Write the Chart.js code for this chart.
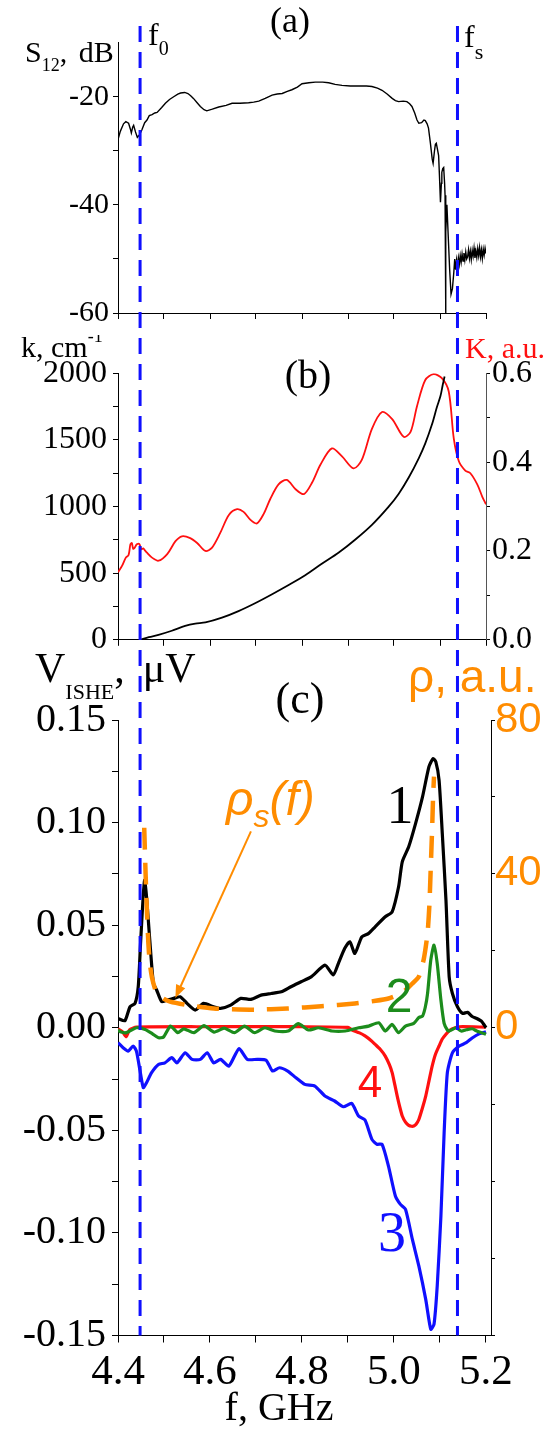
<!DOCTYPE html>
<html>
<head>
<meta charset="utf-8">
<script src="https://cdn.jsdelivr.net/npm/chart.js@4.4.1/dist/chart.umd.min.js"></script>
<style>
  body { margin: 0; background: #fff; width: 555px; height: 1429px; position: relative; overflow: hidden; }
  canvas { position: absolute; left: 0; display: block; }
</style>
</head>
<body>
<canvas id="chartA" width="555" height="335" style="top:0px"></canvas>
<canvas id="chartB" width="555" height="330" style="top:335px"></canvas>
<canvas id="chartC" width="555" height="789" style="top:640px"></canvas>
<script>
// ---- panel (a): transmission S12, dB ----
const fA = [4.400, 4.405, 4.412, 4.417, 4.423, 4.427, 4.429, 4.432, 4.434, 4.438, 4.442, 4.447, 4.452, 4.458, 4.463,
  4.468, 4.474, 4.480, 4.485, 4.495, 4.503, 4.512, 4.521, 4.530, 4.536, 4.545, 4.552, 4.558, 4.564, 4.572,
  4.579, 4.587, 4.593, 4.605, 4.619, 4.635, 4.648, 4.665, 4.684, 4.695, 4.706, 4.720, 4.735, 4.746, 4.757,
  4.768, 4.778, 4.790, 4.800, 4.815, 4.829, 4.845, 4.858, 4.872, 4.887, 4.905, 4.923, 4.940, 4.952, 4.964,
  4.974, 4.985, 4.996, 5.003, 5.010, 5.020, 5.028, 5.034, 5.039, 5.045, 5.050, 5.054, 5.060, 5.065, 5.068,
  5.072, 5.075, 5.079, 5.083, 5.085, 5.088, 5.090, 5.092, 5.094, 5.097, 5.099, 5.101, 5.103, 5.104, 5.106,
  5.108, 5.110, 5.111, 5.112, 5.113, 5.115, 5.118, 5.121, 5.124, 5.127,
  5.130, 5.132, 5.134, 5.136, 5.138, 5.140, 5.142, 5.144, 5.146, 5.148, 5.150, 5.152, 5.154, 5.156, 5.158,
  5.160, 5.162, 5.164, 5.166, 5.168, 5.170, 5.172, 5.174, 5.176, 5.178, 5.180, 5.182, 5.184, 5.186, 5.188,
  5.190, 5.192, 5.194, 5.196, 5.198, 5.200];
const s12 = [-27.9, -26.4, -25.0, -24.6, -24.9, -26.0, -26.7, -25.6, -25.3, -26.5, -27.5, -27.0, -26.1, -24.8, -24.3,
  -23.5, -23.3, -23.0, -22.9, -22.0, -21.2, -20.5, -20.0, -19.5, -19.3, -19.2, -19.4, -19.8, -20.3, -21.1,
  -21.8, -22.4, -22.6, -22.3, -21.9, -21.6, -21.2, -21.2, -21.1, -21.0, -20.8, -20.3, -19.7, -19.5, -19.4,
  -19.0, -18.7, -18.2, -17.6, -17.4, -17.3, -17.3, -17.4, -17.7, -17.9, -18.0, -18.0, -18.0, -18.1, -18.4,
  -18.8, -19.5, -20.3, -20.7, -20.9, -20.8, -20.9, -21.3, -21.8, -23.0, -24.3, -24.9, -24.8, -24.3, -24.4,
  -25.0, -25.8, -28.5, -31.5, -32.3, -30.0, -28.8, -28.6, -29.5, -30.9, -35.0, -39.5, -36.0, -34.0, -33.3,
  -33.1, -36.0, -38.2, -60.0, -45.0, -40.0, -46.0, -52.0, -56.5, -55.5,
  -52.5, -50.0, -52.0, -50.2, -51.6, -49.8, -51.0, -49.4, -50.6, -49.1, -50.4, -48.9, -50.2, -48.7, -50.0,
  -49.6, -48.3, -49.9, -48.6, -50.1, -48.4, -49.5, -48.0, -49.8, -48.5, -49.7, -48.1, -49.4, -47.9, -49.6,
  -48.3, -49.9, -48.2, -49.3, -48.0, -49.0];

// ---- panel (b): wave number k (left) and K (right) ----
const fK = [4.449, 4.467, 4.488, 4.517, 4.546, 4.568, 4.590, 4.626, 4.662, 4.699, 4.735, 4.771, 4.807, 4.843,
  4.880, 4.916, 4.952, 4.988, 5.010, 5.032, 5.054, 5.068, 5.083, 5.093, 5.101, 5.106, 5.110];
const kWave = [0, 20, 37, 68, 105, 122, 130, 166, 215, 276, 342, 411, 484, 570,
  655, 753, 863, 998, 1095, 1218, 1364, 1474, 1621, 1743, 1829, 1914, 1976];
const fKc = [4.400, 4.409, 4.417, 4.423, 4.427, 4.430, 4.433, 4.436, 4.441, 4.446, 4.451, 4.455, 4.458, 4.463,
  4.474, 4.488, 4.507, 4.525, 4.539, 4.557, 4.572, 4.590, 4.604, 4.622, 4.641, 4.659, 4.673, 4.688, 4.702,
  4.717, 4.731, 4.749, 4.767, 4.786, 4.804, 4.822, 4.840, 4.865, 4.887, 4.912, 4.930, 4.952, 4.974, 4.996,
  5.021, 5.036, 5.050, 5.068, 5.086, 5.104, 5.119, 5.130, 5.141, 5.155, 5.166, 5.181, 5.192, 5.200];
const kCoef = [0.152, 0.167, 0.185, 0.191, 0.215, 0.218, 0.205, 0.207, 0.215, 0.216, 0.204, 0.206, 0.202, 0.196,
  0.185, 0.178, 0.193, 0.222, 0.233, 0.229, 0.218, 0.200, 0.207, 0.240, 0.281, 0.294, 0.288, 0.270, 0.262,
  0.284, 0.317, 0.350, 0.360, 0.339, 0.328, 0.354, 0.394, 0.431, 0.413, 0.386, 0.405, 0.475, 0.513, 0.497,
  0.457, 0.468, 0.526, 0.585, 0.598, 0.589, 0.559, 0.453, 0.402, 0.381, 0.375, 0.350, 0.322, 0.305];

// ---- panel (c): V_ISHE curves 1-4 (left) and rho_s (right) ----
const f1 = [4.400, 4.415, 4.426, 4.437, 4.444, 4.449, 4.455, 4.458, 4.462, 4.469, 4.477, 4.484, 4.495, 4.506,
  4.521, 4.535, 4.550, 4.568, 4.586, 4.608, 4.623, 4.645, 4.667, 4.689, 4.711, 4.733, 4.755, 4.776, 4.798,
  4.820, 4.850, 4.868, 4.879, 4.893, 4.904, 4.915, 4.930, 4.945, 4.959, 4.981, 4.996, 5.010, 5.018, 5.032,
  5.047, 5.062, 5.076, 5.085, 5.091, 5.098, 5.105, 5.113, 5.120, 5.127, 5.138, 5.149, 5.160, 5.170, 5.180,
  5.191, 5.200];
const v1 = [0.0045, 0.0034, 0.0102, 0.0119, 0.0200, 0.0410, 0.0650, 0.0720, 0.0640, 0.0430, 0.0216, 0.0184, 0.0127, 0.0135,
  0.0143, 0.0151, 0.0119, 0.0086, 0.0119, 0.0102, 0.0094, 0.0110, 0.0143, 0.0138, 0.0159, 0.0167, 0.0175, 0.0200, 0.0224,
  0.0248, 0.0305, 0.0257, 0.0313, 0.0387, 0.0419, 0.0362, 0.0443, 0.0460, 0.0492, 0.0541, 0.0565, 0.0687, 0.0809, 0.0882,
  0.0996, 0.1125, 0.1272, 0.1312, 0.1296, 0.1207, 0.0947, 0.0622, 0.0248, 0.0167, 0.0102, 0.0070, 0.0075, 0.0055, 0.0045,
  0.0030, 0.0000];
const f2 = [4.400, 4.405, 4.418, 4.440, 4.459, 4.475, 4.488, 4.499, 4.514, 4.530, 4.543, 4.565, 4.587, 4.609,
  4.631, 4.653, 4.675, 4.697, 4.719, 4.741, 4.770, 4.792, 4.814, 4.836, 4.865, 4.894, 4.923, 4.945, 4.967,
  4.981, 4.996, 5.010, 5.025, 5.043, 5.054, 5.062, 5.068, 5.073, 5.080, 5.087, 5.094, 5.102, 5.109, 5.116,
  5.120, 5.135, 5.146, 5.157, 5.170, 5.180, 5.190, 5.200];
const v2 = [-0.0010, -0.0020, -0.0024, 0.0000, -0.0008, -0.0030, -0.0049, -0.0045, 0.0008, -0.0024, -0.0005, -0.0024, 0.0010, -0.0021,
  -0.0002, -0.0024, 0.0008, -0.0024, 0.0000, -0.0016, -0.0016, 0.0020, -0.0011, 0.0000, -0.0016, -0.0016, 0.0000, 0.0008, 0.0024,
  -0.0016, 0.0016, -0.0024, 0.0008, 0.0021, 0.0050, 0.0057, 0.0100, 0.0167, 0.0330, 0.0403, 0.0313, 0.0135, 0.0021, -0.0011,
  -0.0016, 0.0000, -0.0016, -0.0010, -0.0005, -0.0016, -0.0024, -0.0032];
const f3 = [4.400, 4.411, 4.422, 4.433, 4.440, 4.448, 4.455, 4.462, 4.473, 4.488, 4.502, 4.517, 4.528, 4.546,
  4.561, 4.579, 4.594, 4.608, 4.623, 4.641, 4.663, 4.681, 4.703, 4.722, 4.736, 4.751, 4.769, 4.787, 4.806,
  4.828, 4.850, 4.871, 4.890, 4.908, 4.923, 4.937, 4.952, 4.963, 4.974, 4.988, 5.003, 5.014, 5.025, 5.040,
  5.054, 5.069, 5.080, 5.087, 5.094, 5.102, 5.109, 5.116, 5.127, 5.142, 5.157, 5.170, 5.185, 5.200];
const v3 = [-0.0073, -0.0097, -0.0114, -0.0089, -0.0114, -0.0211, -0.0292, -0.0268, -0.0219, -0.0179, -0.0171, -0.0146, -0.0171, -0.0122,
  -0.0154, -0.0154, -0.0122, -0.0171, -0.0154, -0.0187, -0.0102, -0.0154, -0.0154, -0.0158, -0.0211, -0.0195, -0.0211, -0.0244, -0.0276,
  -0.0284, -0.0333, -0.0357, -0.0385, -0.0369, -0.0430, -0.0450, -0.0544, -0.0568, -0.0568, -0.0674, -0.0820, -0.0861, -0.0885, -0.1032,
  -0.1161, -0.1324, -0.1470, -0.1445, -0.1258, -0.0918, -0.0512, -0.0219, -0.0122, -0.0089, -0.0073, -0.0050, -0.0030, -0.0020];
const f4 = [4.400, 4.410, 4.418, 4.425, 4.440, 4.600, 4.800, 4.900, 4.908, 4.925, 4.937, 4.950, 4.959, 4.970,
  4.981, 4.990, 4.996, 5.002, 5.007, 5.013, 5.018, 5.025, 5.032, 5.038, 5.043, 5.048, 5.054, 5.062, 5.069,
  5.076, 5.083, 5.090, 5.098, 5.105, 5.113, 5.120, 5.127, 5.142, 5.200];
const v4 = [-0.0005, -0.0020, -0.0044, -0.0010, 0.0003, 0.0005, 0.0005, 0.0002, -0.0010, -0.0025, -0.0040, -0.0062, -0.0081, -0.0105,
  -0.0138, -0.0180, -0.0219, -0.0280, -0.0333, -0.0390, -0.0430, -0.0460, -0.0476, -0.0480, -0.0479, -0.0470, -0.0447, -0.0390, -0.0333,
  -0.0260, -0.0187, -0.0130, -0.0089, -0.0055, -0.0032, -0.0015, -0.0005, 0.0005, 0.0003];
const fRho = [4.457, 4.460, 4.463, 4.466, 4.469, 4.474, 4.484, 4.500, 4.513, 4.550, 4.608, 4.696, 4.769, 4.842,
  4.915, 4.960, 4.988, 5.010, 5.025, 5.040, 5.054, 5.065, 5.073, 5.077, 5.080, 5.083, 5.085, 5.087];
const rho = [52, 40, 30, 22, 17, 13, 9.0, 7.5, 6.8, 5.9, 5.0, 4.7, 5.0, 5.6,
  6.3, 7.0, 7.6, 8.6, 9.8, 11.5, 13.3, 18, 24.6, 32, 41.9, 52, 60, 65.3];

// band edges f0 and fs
const f0 = 4.448, fs = 5.138;

const RED = '#ff1010', GREEN = '#1c8c1c', BLUE = '#1010ff', ORANGE = '#ff8c00';
const SERIF = "'Liberation Serif', 'Times New Roman', serif";
const SANS = "'Liberation Sans', Arial, sans-serif";
const serif = s => s + 'px ' + SERIF;
const sans = s => s + 'px ' + SANS;
const pts = (xs, ys) => xs.map((x, i) => ({ x: x, y: ys[i] }));

Chart.defaults.font.family = SERIF;
Chart.defaults.color = '#000';

function drawRuns(ctx, item, top) {
  let total = 0;
  item.runs.forEach(r => { ctx.font = r.font; total += ctx.measureText(r.t).width + (r.gap || 0); });
  let x = item.align === 'center' ? item.x - total / 2 : item.x;
  ctx.fillStyle = item.color || '#000';
  ctx.textAlign = 'left';
  ctx.textBaseline = 'alphabetic';
  item.runs.forEach(r => {
    ctx.font = r.font;
    ctx.fillText(r.t, x, item.y - top + (r.dy || 0));
    x += ctx.measureText(r.t).width + (r.gap || 0);
  });
}

// band-edge lines, labels and arrow
const overlay = {
  id: 'overlay',
  afterDraw(chart, args, o) {
    const ctx = chart.ctx;
    const xs = chart.scales.x;
    ctx.save();
    ctx.strokeStyle = BLUE;
    ctx.lineWidth = 3;
    ctx.setLineDash([16, 10]);
    ctx.lineDashOffset = o.top + o.lineFrom;
    [f0, fs].forEach(f => {
      const px = xs.getPixelForValue(f);
      ctx.beginPath();
      ctx.moveTo(px, o.lineFrom);
      ctx.lineTo(px, o.lineTo);
      ctx.stroke();
    });
    ctx.setLineDash([]);
    if (o.arrow) {
      const ys = chart.scales.y;
      const x1 = xs.getPixelForValue(o.arrow[0]), y1 = ys.getPixelForValue(o.arrow[1]);
      const x2 = xs.getPixelForValue(o.arrow[2]), y2 = ys.getPixelForValue(o.arrow[3]);
      const a = Math.atan2(y2 - y1, x2 - x1);
      ctx.strokeStyle = ORANGE;
      ctx.fillStyle = ORANGE;
      ctx.lineWidth = 2;
      ctx.beginPath();
      ctx.moveTo(x1, y1);
      ctx.lineTo(x2 - 8 * Math.cos(a), y2 - 8 * Math.sin(a));
      ctx.stroke();
      ctx.beginPath();
      ctx.moveTo(x2, y2);
      ctx.lineTo(x2 - 13 * Math.cos(a) + 5 * Math.sin(a), y2 - 13 * Math.sin(a) - 5 * Math.cos(a));
      ctx.lineTo(x2 - 13 * Math.cos(a) - 5 * Math.sin(a), y2 - 13 * Math.sin(a) + 5 * Math.cos(a));
      ctx.closePath();
      ctx.fill();
    }
    o.texts.forEach(t => drawRuns(ctx, t, o.top));
    ctx.restore();
  }
};

function axisGrid(len, hide) {
  return {
    drawOnChartArea: false, drawTicks: true, tickLength: len, tickWidth: 1,
    tickColor: c => (hide && c.tick && hide(c.tick.value)) ? 'rgba(0,0,0,0)' : '#000'
  };
}
const border = { display: true, color: '#000', width: 1 };
const near = (v, step) => Math.abs(v / step - Math.round(v / step)) < 1e-6;
const fmt = (v, d) => (v < -1e-9 ? '-' : '') + Math.abs(v).toFixed(d);

function xAxis(max, height, labels) {
  return {
    type: 'linear', min: 4.4, max: max, position: 'bottom',
    ticks: labels ? {
      stepSize: 0.1, includeBounds: false, autoSkip: false, maxRotation: 0, padding: 4,
      font: { family: SERIF, size: 43 }, color: '#000',
      callback: v => near(v, 0.2) ? v.toFixed(1) : ''
    } : { display: false, stepSize: 0.1, includeBounds: false, autoSkip: false },
    grid: axisGrid(labels ? 7 : 6),
    border: border,
    afterFit: s => { s.height = height; }
  };
}

const base = {
  responsive: false,
  animation: false,
  devicePixelRatio: 1,
  events: [],
  elements: { point: { radius: 0 } },
  plugins: { legend: { display: false }, tooltip: { enabled: false } }
};

// (a)
new Chart(document.getElementById('chartA'), {
  type: 'line',
  data: { datasets: [
    { data: pts(fA, s12), borderColor: '#000', borderWidth: 1.4, tension: 0 }
  ] },
  options: Object.assign({}, base, {
    layout: { padding: { top: 42.7, right: 69, left: 0, bottom: 0 } },
    scales: {
      x: xAxis(5.2, 19),
      y: {
        min: -60, max: -10,
        ticks: { stepSize: 10, autoSkip: false, padding: 4, color: '#000',
          font: { family: SERIF, size: 30 },
          callback: v => near(v, 20) ? fmt(v, 0) : '' },
        grid: axisGrid(5, v => v > -11),
        border: border,
        afterFit: s => { s.width = 118; }
      }
    },
    plugins: Object.assign({}, base.plugins, { overlay: {
      top: 0, lineFrom: 22, lineTo: 335,
      texts: [
        { x: 290, y: 32, align: 'center', runs: [{ t: '(a)', font: serif(36) }] },
        { x: 148, y: 45, runs: [{ t: 'f', font: serif(32) }, { t: '0', font: serif(20), dy: 10 }] },
        { x: 464, y: 47, runs: [{ t: 'f', font: serif(32) }, { t: 's', font: serif(22), dy: 12 }] },
        { x: 25, y: 62, runs: [{ t: 'S', font: serif(30) }, { t: '12', font: serif(18), dy: 9 },
          { t: ',', font: serif(30), gap: 4 }, { t: ' dB', font: serif(30) }] }
      ]
    } })
  }),
  plugins: [overlay]
});

// (b)
new Chart(document.getElementById('chartB'), {
  type: 'line',
  data: { datasets: [
    { data: pts(fK, kWave), borderColor: '#000', borderWidth: 1.8, tension: 0.3, yAxisID: 'y' },
    { data: pts(fKc, kCoef), borderColor: RED, borderWidth: 1.8, tension: 0.3, yAxisID: 'yR' }
  ] },
  options: Object.assign({}, base, {
    layout: { padding: { top: 38.3, right: 0, left: 0, bottom: 0 } },
    scales: {
      x: xAxis(5.2, 18.7),
      y: {
        min: 0, max: 2000, position: 'left',
        ticks: { stepSize: 250, autoSkip: false, padding: 6, color: '#000',
          font: { family: SERIF, size: 32 },
          callback: v => near(v, 500) ? String(Math.round(v)) : '' },
        grid: axisGrid(5),
        border: border,
        afterFit: s => { s.width = 118; }
      },
      yR: {
        min: 0, max: 0.6, position: 'right',
        ticks: { stepSize: 0.1, autoSkip: false, padding: 2, color: '#000',
          font: { family: SERIF, size: 32 },
          callback: v => near(v, 0.2) ? v.toFixed(1) : '' },
        grid: axisGrid(4),
        border: { display: true, color: '#555', width: 1 },
        afterFit: s => { s.width = 69; }
      }
    },
    plugins: Object.assign({}, base.plugins, { overlay: {
      top: 335, lineFrom: 0, lineTo: 305,
      texts: [
        { x: 21, y: 357, runs: [{ t: 'k, cm', font: serif(30) }, { t: '-1', font: serif(18), dy: -15 }] },
        { x: 465, y: 358, color: RED, runs: [{ t: 'K, a.u.', font: serif(30) }] },
        { x: 308, y: 388, align: 'center', runs: [{ t: '(b)', font: serif(40) }] }
      ]
    } })
  }),
  plugins: [overlay]
});

// (c)
new Chart(document.getElementById('chartC'), {
  type: 'line',
  data: { datasets: [
    { data: pts(fRho, rho), borderColor: ORANGE, borderWidth: 4.5, borderDash: [22, 13], tension: 0.2, yAxisID: 'yR' },
    { data: pts(f2, v2), borderColor: GREEN, borderWidth: 3.2, tension: 0.2, yAxisID: 'y' },
    { data: pts(f1, v1), borderColor: '#000', borderWidth: 3.2, tension: 0.2, yAxisID: 'y' },
    { data: pts(f3, v3), borderColor: BLUE, borderWidth: 3.2, tension: 0.2, yAxisID: 'y' },
    { data: pts(f4, v4), borderColor: RED, borderWidth: 3.2, tension: 0.2, yAxisID: 'y' }
  ] },
  options: Object.assign({}, base, {
    layout: { padding: { top: 80, right: 0, left: 0, bottom: 0 } },
    scales: {
      x: xAxis(5.2109, 93.5, true),
      y: {
        min: -0.15, max: 0.15, position: 'left',
        ticks: { stepSize: 0.025, autoSkip: false, padding: 6, color: '#000',
          font: { family: SERIF, size: 40 },
          callback: v => near(v, 0.05) ? fmt(v, 2) : '' },
        grid: axisGrid(6),
        border: border,
        afterFit: s => { s.width = 118; }
      },
      yR: {
        min: -80, max: 80, position: 'right',
        ticks: { stepSize: 20, autoSkip: false, padding: 0, color: ORANGE,
          font: { family: SANS, size: 42 },
          callback: v => (v > -1 && near(v, 40)) ? String(Math.round(v)) : '' },
        grid: axisGrid(4),
        border: border,
        afterFit: s => { s.width = 64; }
      }
    },
    plugins: Object.assign({}, base.plugins, { overlay: {
      top: 640, lineFrom: 0, lineTo: 695.5,
      arrow: [4.689, 0.0957, 4.5246, 0.0145],
      texts: [
        { x: 35, y: 682, runs: [{ t: 'V', font: serif(42) }, { t: 'ISHE', font: serif(22), dy: 17 },
          { t: ',', font: serif(42), gap: 18 }, { t: 'μV', font: serif(42) }] },
        { x: 408, y: 692, color: ORANGE, runs: [{ t: 'ρ, a.u.', font: sans(46) }] },
        { x: 300, y: 713, align: 'center', runs: [{ t: '(c)', font: serif(44) }] },
        { x: 279, y: 1420, align: 'center', runs: [{ t: 'f, GHz', font: serif(40) }] },
        { x: 226, y: 815, color: ORANGE, runs: [{ t: 'ρ', font: 'italic ' + sans(48) },
          { t: 's', font: 'italic ' + sans(32), dy: 12 }, { t: '(f)', font: 'italic ' + sans(48) }] },
        { x: 400, y: 823, align: 'center', runs: [{ t: '1', font: serif(54) }] },
        { x: 399, y: 1012, align: 'center', color: GREEN, runs: [{ t: '2', font: sans(48) }] },
        { x: 370, y: 1097, align: 'center', color: RED, runs: [{ t: '4', font: sans(44) }] },
        { x: 392, y: 1251, align: 'center', color: BLUE, runs: [{ t: '3', font: serif(56) }] }
      ]
    } })
  }),
  plugins: [overlay]
});
</script>
</body>
</html>
